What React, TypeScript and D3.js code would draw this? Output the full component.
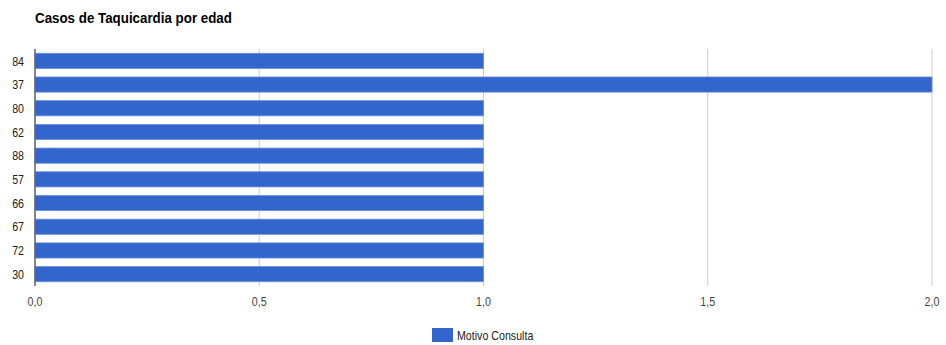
import React from "react";
import * as d3 from "d3";

const categories = ["84", "37", "80", "62", "88", "57", "66", "67", "72", "30"];
const values = [1, 2, 1, 1, 1, 1, 1, 1, 1, 1];
const xTicks = [0, 0.5, 1, 1.5, 2];
const seriesName = "Motivo Consulta";
const title = "Casos de Taquicardia por edad";

const W = 946, H = 345;
const FONT = "'Liberation Sans', Arial, sans-serif";

function T(props: { x: number; y: number; sx: number; anchor?: string; size: number; fill: string; bold?: boolean; dy?: string; children: React.ReactNode }) {
  return (
    <g transform={`translate(${props.x},${props.y}) scale(${props.sx},1)`}>
      <text x={0} y={0} dy={props.dy} textAnchor={props.anchor || "start"} fontSize={props.size}
        fontWeight={props.bold ? "bold" : "normal"} fill={props.fill}>{props.children}</text>
    </g>
  );
}

export default function App() {
  const x = d3.scaleLinear().domain([0, 2]).range([35, 932]);
  const y = d3.scaleBand().domain(categories).range([49, 286]).paddingInner(0.36).paddingOuter(0.18);
  const fmt = (v: number) => v.toFixed(1).replace(".", ",");
  return (
    <svg width={W} height={H} style={{ position: "absolute", left: 0, top: 0, background: "#fff" }} fontFamily={FONT}>
      <T x={35} y={23} sx={0.89} size={15} bold fill="#000">{title}</T>
      {xTicks.map((t) => (
        <line key={"g" + t} x1={x(t)} x2={x(t)} y1={49} y2={286} stroke="#cccccc" strokeWidth={1} />
      ))}
      {categories.map((c, i) => (
        <rect key={c + i} x={x(0)} y={y(c)!} width={x(values[i]) - x(0)} height={y.bandwidth()}
          fill="#3366cc" stroke="#6b8fd9" strokeWidth={0.8} />
      ))}
      <line x1={35} x2={35} y1={49} y2={286} stroke="#666" strokeWidth={1.5} />
      {categories.map((c) => (
        <T key={"l" + c} x={24} y={y(c)! + y.bandwidth() / 2} dy="0.36em" anchor="end" sx={0.82} size={13} fill="#222">{c}</T>
      ))}
      {xTicks.map((t) => (
        <T key={"t" + t} x={x(t)} y={306} anchor="middle" sx={0.82} size={13} fill="#444">{fmt(t)}</T>
      ))}
      <rect x={432} y={328} width={21} height={14} fill="#3366cc" />
      <T x={457} y={340} sx={0.82} size={13} fill="#222">{seriesName}</T>
    </svg>
  );
}
